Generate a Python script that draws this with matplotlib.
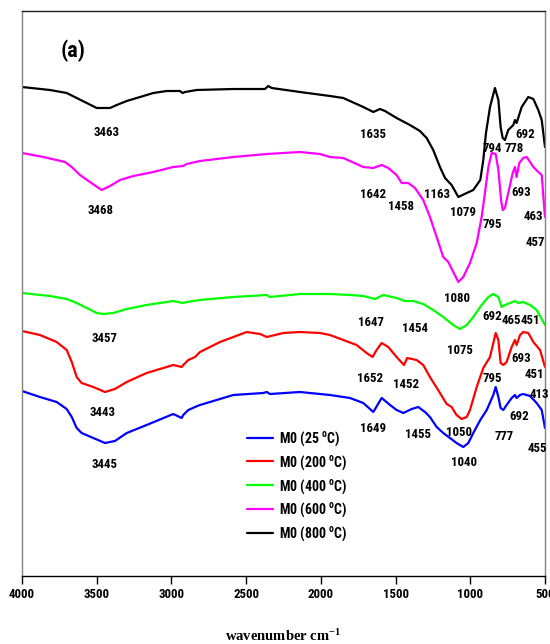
import matplotlib
matplotlib.use("Agg")
import matplotlib.pyplot as plt
from matplotlib import font_manager

# FTIR spectra of M0 calcined at different temperatures (stacked, offset transmittance)
installed = {f.name for f in font_manager.fontManager.ttflist}
condensed = [n for n in ("Liberation Sans Narrow", "Roboto Condensed", "Open Sans Condensed")
             if n in installed]
base = condensed[0] if condensed else "Liberation Sans"
plt.rcParams["font.family"] = [base, "DejaVu Sans"]
plt.rcParams["mathtext.fontset"] = "custom"
plt.rcParams["mathtext.rm"] = f"{base}:bold"
plt.rcParams["mathtext.it"] = f"{base}:bold"
plt.rcParams["mathtext.bf"] = f"{base}:bold"

wn_25 = [4000, 3880, 3768, 3701, 3667, 3634, 3601, 3523, 3445, 3378, 3299, 3166, 2988, 2931,
         2921, 2887, 2842, 2809, 2586, 2385, 2362, 2340, 2140, 1939, 1805, 1716, 1649, 1593,
         1537, 1493, 1448, 1392, 1348, 1303, 1270, 1225, 1181, 1136, 1092, 1047, 1013, 980,
         933, 890, 846, 830, 812, 797, 779, 757, 723, 701, 690, 667, 646, 600, 556, 522, 500]
t_25 = [183, 177, 172, 165, 157, 146, 141, 136, 131, 133, 141, 149, 160, 156,
        159, 164, 167, 169, 179, 181, 182, 180, 182, 179, 176, 171, 162, 176,
        169, 164, 161, 165, 167, 162, 157, 147, 141, 136, 131, 127, 131, 141,
        154, 164, 179, 187, 177, 166, 164, 169, 176, 179, 176, 179, 180, 178, 171, 164, 146]

wn_200 = [4000, 3880, 3768, 3701, 3667, 3634, 3601, 3523, 3445, 3378, 3299, 3166, 2988, 2931,
          2921, 2887, 2842, 2809, 2675, 2496, 2407, 2362, 2251, 2140, 2006, 1939, 1850, 1761,
          1694, 1654, 1627, 1593, 1549, 1493, 1444, 1422, 1359, 1315, 1270, 1203, 1158, 1125,
          1092, 1058, 1024, 1002, 957, 913, 868, 830, 812, 797, 779, 757, 723, 701, 690, 667,
          646, 612, 578, 533, 500]
t_200 = [243, 239, 232, 224, 212, 197, 191, 187, 182, 185, 192, 201, 209, 207,
         209, 214, 217, 222, 232, 242, 240, 237, 241, 242, 241, 239, 234, 229,
         221, 217, 224, 231, 227, 217, 209, 216, 214, 209, 197, 181, 170, 167,
         159, 155, 157, 164, 187, 206, 217, 241, 234, 211, 209, 212, 227, 234, 229, 239,
         242, 241, 232, 224, 207]

wn_400 = [4000, 3813, 3701, 3634, 3567, 3500, 3456, 3389, 3299, 3166, 2988, 2925, 2898, 2809,
          2586, 2362, 2340, 2140, 1939, 1805, 1716, 1638, 1582, 1493, 1437, 1381, 1315, 1248,
          1181, 1114, 1069, 1024, 980, 924, 879, 846, 812, 790, 768, 734, 701, 679, 646, 600,
          556, 511, 500]
t_400 = [281, 278, 275, 271, 266, 261, 260, 261, 265, 269, 273, 271, 272, 274,
         277, 279, 277, 280, 280, 279, 278, 275, 279, 276, 273, 273, 270, 264,
         257, 249, 245, 249, 257, 269, 277, 280, 277, 267, 269, 271, 273, 271, 272, 269,
         264, 252, 249]

wn_600 = [4000, 3857, 3712, 3667, 3612, 3545, 3467, 3411, 3344, 3255, 3121, 2988, 2921, 2898,
          2809, 2586, 2362, 2140, 2006, 1939, 1850, 1716, 1649, 1593, 1549, 1493, 1459, 1415,
          1370, 1315, 1270, 1225, 1181, 1147, 1114, 1080, 1047, 1002, 957, 924, 902, 879, 857,
          830, 812, 794, 783, 768, 746, 716, 701, 690, 672, 646, 623, 600, 578, 545, 522, 500]
t_600 = [421, 417, 412, 407, 399, 392, 384, 388, 394, 398, 402, 407, 408, 410,
         413, 417, 420, 422, 420, 417, 416, 407, 406, 409, 406, 399, 391, 391,
         386, 374, 357, 337, 317, 312, 302, 292, 297, 311, 331, 357, 381, 407, 421,
         420, 404, 374, 364, 366, 381, 401, 407, 397, 411, 416, 417, 412, 407, 402, 399, 357]

wn_800 = [4000, 3813, 3701, 3634, 3567, 3500, 3456, 3411, 3366, 3299, 3210, 3121, 3032, 2943,
          2925, 2909, 2831, 2586, 2374, 2352, 2329, 2140, 1939, 1850, 1716, 1649, 1604, 1571,
          1493, 1404, 1337, 1292, 1248, 1203, 1169, 1125, 1080, 1024, 980, 933, 913, 895, 868,
          835, 812, 797, 783, 768, 746, 712, 701, 690, 656, 612, 578, 545, 522, 500]
t_800 = [487, 484, 481, 476, 471, 466, 466, 466, 469, 473, 477, 481, 483, 483,
         481, 482, 484, 485, 485, 488, 486, 482, 478, 476, 467, 462, 465, 463,
         456, 449, 443, 436, 424, 407, 396, 389, 377, 381, 384, 394, 414, 441, 467,
         486, 474, 447, 436, 434, 444, 449, 454, 451, 467, 477, 475, 464, 454, 427]

series = [
    ("M0 (25 $^{\\mathrm{o}}$C)", wn_25, t_25, "#0000ff"),
    ("M0 (200 $^{\\mathrm{o}}$C)", wn_200, t_200, "#ff0000"),
    ("M0 (400 $^{\\mathrm{o}}$C)", wn_400, t_400, "#00ff00"),
    ("M0 (600 $^{\\mathrm{o}}$C)", wn_600, t_600, "#ff00ff"),
    ("M0 (800 $^{\\mathrm{o}}$C)", wn_800, t_800, "#000000"),
]

# band labels: text, x (cm-1), y (offset units)
band_labels = [
    ("3463", 3431, 441), ("1635", 1651, 439), ("794", 851, 426), ("778", 707, 426),
    ("692", 634, 439),
    ("3468", 3471, 363), ("1642", 1651, 379), ("1458", 1464, 368), ("1163", 1223, 380),
    ("1079", 1049, 361), ("795", 855, 349), ("693", 661, 381), ("463", 580, 357),
    ("457", 567, 331),
    ("3457", 3451, 235), ("1080", 1089, 275), ("1647", 1664, 252), ("1454", 1370, 246),
    ("692", 855, 257), ("465", 727, 254), ("451", 595, 254), ("1075", 1069, 223),
    ("693", 661, 216),
    ("1652", 1671, 196), ("1452", 1430, 189), ("795", 855, 196), ("451", 574, 199),
    ("413", 540, 179), ("3443", 3458, 161), ("1050", 1076, 142),
    ("1649", 1651, 146), ("1455", 1350, 140), ("777", 774, 138), ("692", 674, 157),
    ("455", 554, 126), ("1040", 1042, 111), ("3445", 3445, 110),
]

fig = plt.figure(figsize=(5.5, 6.44), dpi=100)
ax = fig.add_axes([22 / 550, 1 - 576 / 644, 523 / 550, 565 / 644])

for label, wn, t, color in series:
    ax.plot(wn, t, color=color, lw=1.6, label=label,
            solid_joinstyle="round", solid_capstyle="round")

for txt, x, y in band_labels:
    ax.text(x, y, txt, ha="center", va="center", fontsize=9.3, fontweight="bold")

ax.text(0.097, 0.93, "(a)", transform=ax.transAxes, ha="center", va="center",
        fontsize=16, fontweight="bold")

ax.set_xlim(4000, 500)
ax.set_ylim(-2, 563)
ax.set_xticks([4000, 3500, 3000, 2500, 2000, 1500, 1000, 500])
ax.set_yticks([])
ax.tick_params(axis="x", direction="out", length=6, width=1, pad=3)
for lbl in ax.get_xticklabels():
    lbl.set_fontweight("bold")
    lbl.set_fontsize(9.3)

ax.spines["left"].set_color("#808080")
ax.spines["right"].set_color("#808080")
ax.spines["top"].set_color("#202020")
for s in ax.spines.values():
    s.set_linewidth(1.0)

ax.set_xlabel("wavenumber cm$^{\\mathregular{-1}}$", fontsize=10.5, fontweight="bold",
              family="Liberation Serif", labelpad=19)

ax.legend(loc="upper left", bbox_to_anchor=(0.406, 0.282), frameon=False,
          handlelength=1.9, handletextpad=0.45, labelspacing=0.38,
          prop={"weight": "bold", "size": 10})

fig.savefig("out.png", dpi=100)
